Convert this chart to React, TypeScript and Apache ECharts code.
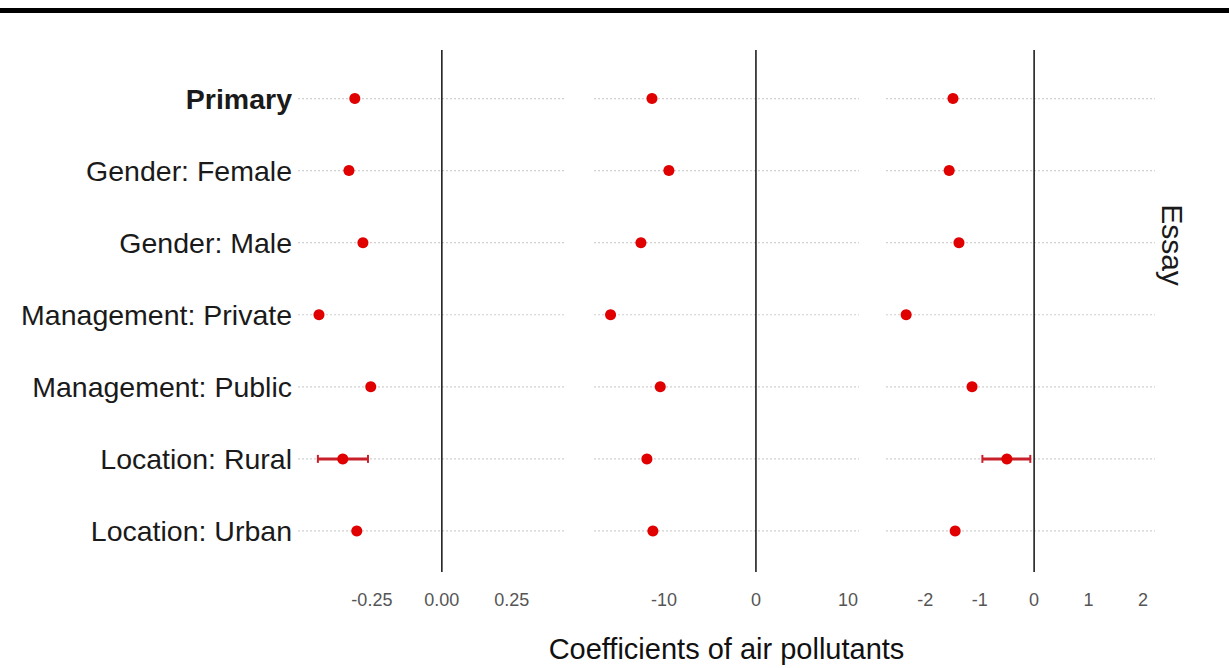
import React, { useEffect, useRef } from "react";
import * as echarts from "echarts";

const categories = [
  "Primary",
  "Gender: Female",
  "Gender: Male",
  "Management: Private",
  "Management: Public",
  "Location: Rural",
  "Location: Urban",
];

// Panel 1
const p1Est = [-0.311, -0.332, -0.282, -0.439, -0.254, -0.354, -0.304];
const p1Low = [null, null, null, null, null, -0.443, null];
const p1High = [null, null, null, null, null, -0.264, null];
const p1Ticks = [-0.25, 0, 0.25];

// Panel 2
const p2Est = [-11.3, -9.46, -12.5, -15.8, -10.4, -11.85, -11.2];
const p2Low = [null, null, null, null, null, null, null];
const p2High = [null, null, null, null, null, null, null];
const p2Ticks = [-10, 0, 10];

// Panel 3
const p3Est = [-1.49, -1.56, -1.38, -2.35, -1.14, -0.5, -1.45];
const p3Low = [null, null, null, null, null, -0.95, null];
const p3High = [null, null, null, null, null, -0.07, null];
const p3Ticks = [-2, -1, 0, 1, 2];

const xTitle = "Coefficients of air pollutants";
const stripLabel = "Essay";

const panels = [
  { est: p1Est, low: p1Low, high: p1High, ticks: p1Ticks, min: -0.514, max: 0.44, left: 298, width: 267, fmt: (v: number) => v.toFixed(2) },
  { est: p2Est, low: p2Low, high: p2High, ticks: p2Ticks, min: -17.6, max: 11.2, left: 594, width: 265, fmt: (v: number) => String(v) },
  { est: p3Est, low: p3Low, high: p3High, ticks: p3Ticks, min: -2.72, max: 2.22, left: 886, width: 269, fmt: (v: number) => String(v) },
];

const GRID_TOP = 62.5;
const GRID_H = 504.5;
const FONT = "'Liberation Sans', Arial, Helvetica, sans-serif";

export default function App() {
  const ref = useRef<HTMLDivElement>(null);
  useEffect(() => {
    if (!ref.current) return;
    const chart = echarts.init(ref.current, null, { renderer: "svg" });

    const grid = panels.map((p) => ({
      left: p.left,
      width: p.width,
      top: GRID_TOP,
      height: GRID_H,
      containLabel: false,
    }));

    const xAxis = panels.map((p, i) => ({
      type: "value",
      gridIndex: i,
      min: p.min,
      max: p.max,
      axisLine: { show: false },
      axisTick: { show: false },
      splitLine: { show: false },
      axisLabel: {
        customValues: p.ticks,
        formatter: (v: number) => p.fmt(v),
        color: "#555555",
        fontSize: 18,
        fontFamily: "'Liberation Sans Narrow', " + FONT,
        margin: 24,
      },
      ...(i === 1
        ? {
            name: xTitle,
            nameLocation: "middle",
            nameGap: 67,
            nameTextStyle: {
              color: "#111",
              fontSize: 29,
              fontFamily: FONT,
            },
          }
        : {}),
    }));

    const yAxis = panels.map((p, i) => ({
      type: "category",
      gridIndex: i,
      data: categories,
      inverse: true,
      show: true,
      axisLine: { show: false },
      axisTick: { show: false },
      splitLine: { show: false },
      axisLabel: {
        show: i === 0,
        margin: 6,
        fontSize: 28.5,
        color: "#1a1a1a",
        fontFamily: FONT,
        formatter: (v: string) => (v === "Primary" ? "{b|" + v + "}" : v),
        rich: {
          b: {
            fontSize: 28.5,
            fontWeight: "bold",
            color: "#1a1a1a",
            fontFamily: FONT,
          },
        },
      },
    }));

    const series: any[] = [];
    panels.forEach((p, gi) => {
      series.push({
        type: "custom",
        xAxisIndex: gi,
        yAxisIndex: gi,
        z: 1,
        silent: true,
        data: categories.map((c, i) => [
          p.est[i],
          i,
          p.low[i] == null ? NaN : p.low[i],
          p.high[i] == null ? NaN : p.high[i],
        ]),
        renderItem: (params: any, api: any) => {
          const cs = params.coordSys;
          const idx = api.value(1);
          const y = api.coord([0, idx])[1];
          const children: any[] = [
            {
              type: "line",
              shape: { x1: cs.x, y1: y, x2: cs.x + cs.width, y2: y },
              style: { stroke: "#d0d0d0", lineWidth: 1.2, lineDash: [2, 2] },
            },
          ];
          if (params.dataIndex === 0) {
            const x0 = api.coord([0, 0])[0];
            children.push({
              type: "line",
              z2: 5,
              shape: { x1: x0, y1: cs.y - 12.5, x2: x0, y2: cs.y + cs.height + 5 },
              style: { stroke: "#111", lineWidth: 1.5 },
            });
          }
          const lo = api.value(2);
          const hi = api.value(3);
          if (!isNaN(lo) && !isNaN(hi)) {
            const xl = api.coord([lo, idx])[0];
            const xh = api.coord([hi, idx])[0];
            children.push(
              {
                type: "line",
                z2: 10,
                shape: { x1: xl, y1: y, x2: xh, y2: y },
                style: { stroke: "#c8202a", lineWidth: 3 },
              },
              {
                type: "line",
                z2: 10,
                shape: { x1: xl, y1: y - 4, x2: xl, y2: y + 4 },
                style: { stroke: "#c8202a", lineWidth: 2 },
              },
              {
                type: "line",
                z2: 10,
                shape: { x1: xh, y1: y - 4, x2: xh, y2: y + 4 },
                style: { stroke: "#c8202a", lineWidth: 2 },
              }
            );
          }
          return { type: "group", children };
        },
      });
      series.push({
        type: "scatter",
        xAxisIndex: gi,
        yAxisIndex: gi,
        z: 3,
        symbol: "circle",
        symbolSize: 11,
        itemStyle: { color: "#e00000", opacity: 1 },
        data: categories.map((c, i) => [p.est[i], i]),
      });
    });

    chart.setOption({
      animation: false,
      backgroundColor: "#ffffff",
      grid,
      xAxis,
      yAxis,
      series,
      graphic: [
        {
          type: "rect",
          left: 0,
          top: 8,
          shape: { width: 1229, height: 5 },
          style: { fill: "#000" },
        },
        {
          type: "text",
          x: 1172,
          y: 245,
          rotation: -Math.PI / 2,
          style: {
            text: stripLabel,
            fontSize: 30,
            fill: "#1a1a1a",
            fontFamily: FONT,
            align: "center",
            verticalAlign: "middle",
          },
        },
      ],
    });
    return () => chart.dispose();
  }, []);
  return (
    <div
      ref={ref}
      style={{ position: "absolute", left: 0, top: 0, width: 1229, height: 668, background: "#fff" }}
    />
  );
}
